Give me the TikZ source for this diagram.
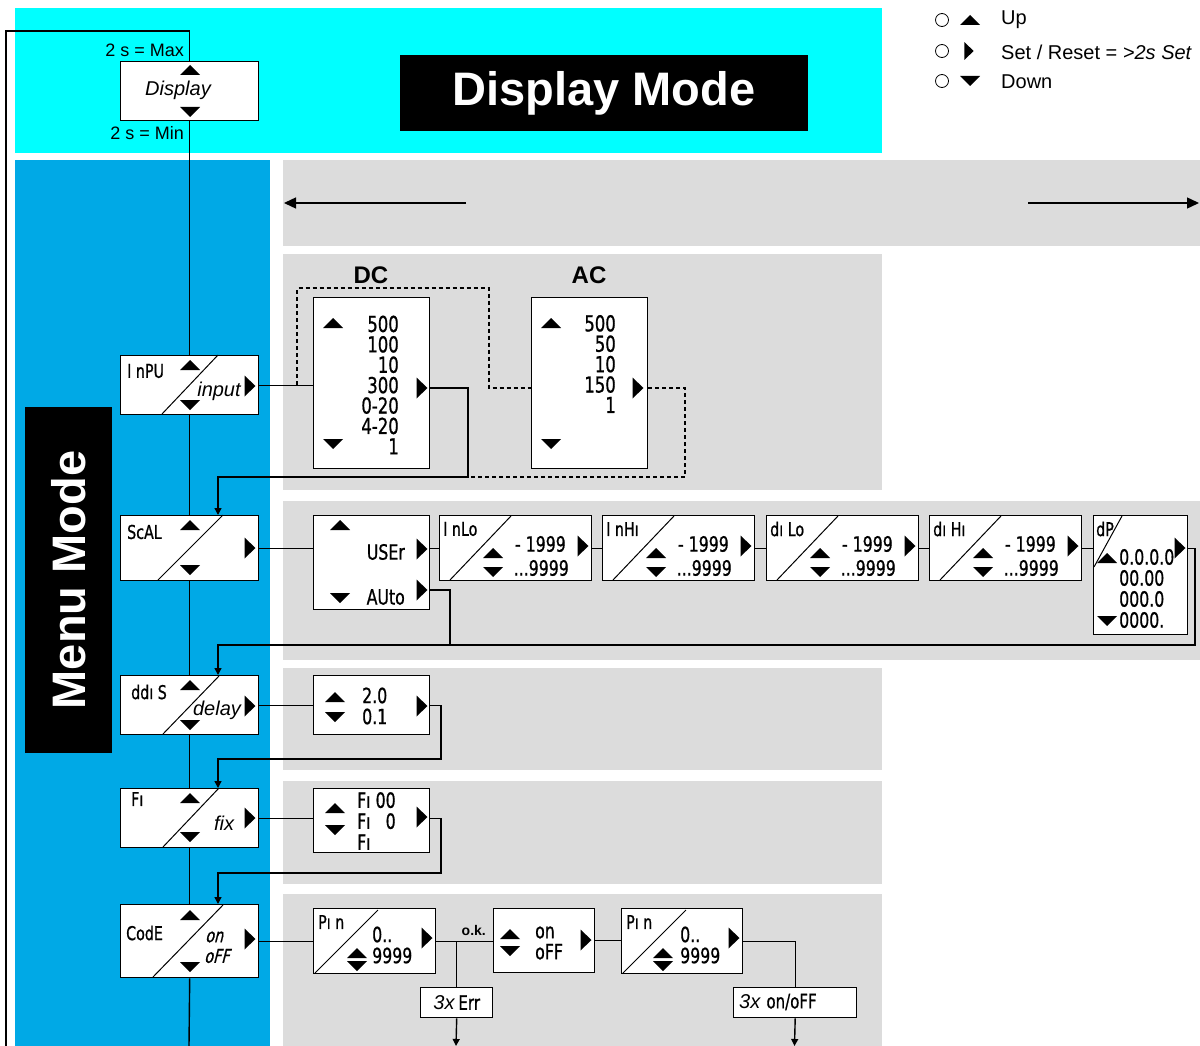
\documentclass[tikz,border=0pt]{standalone}
\usepackage{fontspec}
\setmainfont{Liberation Sans}
\newfontfamily\lcdfont[FakeStretch=0.75,FakeBold=0.8]{DejaVu Sans}
\newfontfamily\lcdslant[FakeStretch=0.75,FakeSlant=0.25,FakeBold=0.8]{DejaVu Sans}
\usetikzlibrary{positioning,arrows.meta,calc}
\definecolor{bandcyan}{HTML}{00FFFF}
\definecolor{menublue}{HTML}{00A9E6}
\definecolor{panel}{HTML}{DCDCDC}

\begin{document}
\begin{tikzpicture}[x=1pt, y=-1pt,
    mbox/.style={draw, line width=1.4pt, fill=white, minimum width=138pt, inner sep=0pt, anchor=north west},
    vbox/.style={draw, line width=1.4pt, fill=white, inner sep=0pt, anchor=north west},
    txt/.style={inner sep=0pt, font=\fontsize{18}{18}\selectfont},
    itx/.style={inner sep=0pt, font=\fontsize{20}{20}\selectfont\itshape},
    seg/.style={inner sep=0pt, font=\lcdfont\fontsize{21}{21}\selectfont},
    segs/.style={inner sep=0pt, font=\lcdfont\fontsize{19}{19}\selectfont},
    link/.style={line width=1.4pt},
    dlink/.style={line width=1.3pt, dash pattern=on 4pt off 3pt},
    flow/.style={line width=1.4pt, -{Triangle[length=7pt,width=7pt]}},
    wide/.style={line width=1.4pt, -{Triangle[length=12pt,width=11pt]}},
    upk/.pic={\fill (-10,5) -- (10,5) -- (0,-5) -- cycle;},
    dnk/.pic={\fill (-10,-5) -- (10,-5) -- (0,5) -- cycle;},
    rtk/.pic={\fill (-5.5,-10.5) -- (-5.5,10.5) -- (5.5,0) -- cycle;}
  ]
  \useasboundingbox (0,0) rectangle (1200,1046);

  % background bands
  \fill[bandcyan] (15,8) rectangle (882,153);
  \fill[menublue] (15,160) rectangle (270,1046);
  \fill[panel] (283,160) rectangle (1200,246);
  \fill[panel] (283,254) rectangle (882,490);
  \fill[panel] (283,501) rectangle (1200,660);
  \fill[panel] (283,668) rectangle (882,770);
  \fill[panel] (283,781) rectangle (882,884);
  \fill[panel] (283,894) rectangle (882,1046);

  % titles
  \node[fill=black, text=white, minimum width=408pt, minimum height=76pt, font=\bfseries\fontsize{47}{47}\selectfont] (dmode) at (604,93) {Display Mode};
  \node[fill=black, text=white, rotate=90, minimum width=346pt, minimum height=87pt, font=\bfseries\fontsize{47}{47}\selectfont] (mmode) at (68.5,580) {Menu Mode};

  % key
  \node[circle, draw, line width=0.8pt, minimum size=13pt, inner sep=0pt] (kup) at (942,20) {};
  \node[circle, draw, line width=0.8pt, minimum size=13pt, inner sep=0pt] (kset) at (942,51) {};
  \node[circle, draw, line width=0.8pt, minimum size=13pt, inner sep=0pt] (kdn) at (942,81) {};
  \pic at (970,20) {upk};
  \pic[scale=0.85] at (969,51) {rtk};
  \pic at (970,81) {dnk};
  \node[inner sep=0pt, anchor=west, font=\fontsize{20}{20}\selectfont] (lup) at (1001,20) {Up};
  \node[inner sep=0pt, anchor=west, font=\fontsize{20}{20}\selectfont] (lset) at (1001,52) {Set / Reset = \textit{>2s Set}};
  \node[inner sep=0pt, anchor=west, font=\fontsize{20}{20}\selectfont] (ldn) at (1001,82) {Down};

  % display
  \node[mbox, minimum height=59pt] (disp) at (120,61) {};
  \node[itx] (disptxt) at (178,90) {Display};
  \pic at (190,70) {upk};
  \pic at (190,112) {dnk};
  \node[txt, anchor=east] (maxlab) at (184,50) {2 s = Max};
  \node[txt, anchor=east] (minlab) at (184,133) {2 s = Min};

  % input
  \node[mbox, minimum height=59pt] (inpu) at (120,355) {};
  \draw[line width=1pt] (162,414) -- (218,355);
  \node[segs, anchor=west] (inpulab) at (127,371) {I nPU};
  \node[itx] (inputtxt) at (219,391) {input};
  \pic at (190,365) {upk};
  \pic at (190,405) {dnk};
  \pic at (250,386) {rtk};

  \node[inner sep=0pt, font=\bfseries\fontsize{24}{24}\selectfont] (dclab) at (371,275) {DC};
  \node[vbox, minimum width=116pt, minimum height=171pt] (dc) at (313,297) {};
  \node[inner sep=0pt, font=\lcdfont\fontsize{22}{20.4}\selectfont, align=right, anchor=east] (dcvals) at (399,385) {500\\100\\10\\300\\0-20\\4-20\\1};
  \pic at (333,323) {upk};
  \pic at (333,444) {dnk};
  \pic at (422,388) {rtk};

  \node[inner sep=0pt, font=\bfseries\fontsize{24}{24}\selectfont] (aclab) at (589,275) {AC};
  \node[vbox, minimum width=116pt, minimum height=171pt] (ac) at (531,297) {};
  \node[inner sep=0pt, font=\lcdfont\fontsize{22}{20.4}\selectfont, align=right, anchor=east] (acvals) at (616,364) {500\\50\\10\\150\\1};
  \pic at (551,323) {upk};
  \pic at (551,444) {dnk};
  \pic at (638,388) {rtk};

  % scale
  \node[mbox, minimum height=65pt] (scal) at (120,515) {};
  \draw[line width=1pt] (158,580) -- (223,515);
  \node[segs, anchor=west] (scallab) at (127,532) {ScAL};
  \pic at (190,525) {upk};
  \pic at (190,570) {dnk};
  \pic at (250,548) {rtk};

  \node[vbox, minimum width=116pt, minimum height=94pt] (sel) at (313,515) {};
  \pic at (340,525) {upk};
  \pic at (340,598) {dnk};
  \node[seg, anchor=east] (usertxt) at (405,552) {USEr};
  \node[seg, anchor=east] (autotxt) at (405,597) {AUto};
  \pic at (422,549) {rtk};
  \pic at (422,590) {rtk};

  \foreach \bx/\bn/\bt in {439/inlo/{I nLo}, 602/inhi/{I nHı}, 766/dilo/{dı Lo}, 929/dihi/{dı Hı}}{
    \node[vbox, minimum width=152pt, minimum height=65pt] (\bn) at (\bx,515) {};
    \draw[line width=1pt] (\bx+11,580) -- (\bx+72,516);
    \node[segs, anchor=west] (\bn-lab) at (\bx+4,529) {\bt};
    \node[seg, anchor=east] (\bn-top) at (\bx+127,544) {- 1999};
    \node[seg, anchor=east] (\bn-bot) at (\bx+130,568) {...9999};
    \pic at (\bx+54,553) {upk};
    \pic at (\bx+54,572) {dnk};
    \pic at (\bx+144,546) {rtk};
  }

  \node[vbox, minimum width=94pt, minimum height=119pt] (dip) at (1093,515) {};
  \draw[line width=1pt] (1094,567) -- (1122,516);
  \node[segs, anchor=west] (diplab) at (1096,529) {dP};
  \node[seg, anchor=west, align=left] (dipvals) at (1119,588.5) {0.0.0.0\\00.00\\000.0\\0000.};
  \pic at (1107,558) {upk};
  \pic at (1107,621) {dnk};
  \pic at (1180,548) {rtk};

  % delay
  \node[mbox, minimum height=59pt] (ddis) at (120,675) {};
  \draw[line width=1pt] (163,734) -- (219,676);
  \node[segs, anchor=west] (ddislab) at (131,692) {ddı S};
  \node[itx] (delaytxt) at (217,710) {delay};
  \pic at (190,685) {upk};
  \pic at (190,725) {dnk};
  \pic at (250,706) {rtk};

  \node[vbox, minimum width=116pt, minimum height=59pt] (dly) at (313,675) {};
  \pic at (335,697) {upk};
  \pic at (335,717) {dnk};
  \node[seg, anchor=west, align=left] (dlyvals) at (362,706) {2.0\\0.1};
  \pic at (422,706) {rtk};

  % fix
  \node[mbox, minimum height=59pt] (fi) at (120,788) {};
  \draw[line width=1pt] (163,847) -- (219,788);
  \node[segs, anchor=west] (filab) at (131,799) {Fı};
  \node[itx] (fixtxt) at (224,823) {fix};
  \pic at (190,798) {upk};
  \pic at (190,837) {dnk};
  \pic at (250,818) {rtk};

  \node[vbox, minimum width=116pt, minimum height=64pt] (fix) at (313,788) {};
  \pic at (335,808) {upk};
  \pic at (335,830) {dnk};
  \node[seg, anchor=west, align=left] (fixvals) at (357,821) {Fı 00\\Fı \phantom{0}0\\Fı};
  \pic at (422,817) {rtk};

  % code
  \node[mbox, minimum height=73pt] (code) at (120,904) {};
  \draw[line width=1pt] (153,977) -- (223,905);
  \node[segs, anchor=west] (codelab) at (126,933) {CodE};
  \node[inner sep=0pt, anchor=west, font=\lcdslant\fontsize{19}{19}\selectfont] (ontxt) at (205,937) {on};
  \node[inner sep=0pt, anchor=west, font=\lcdslant\fontsize{19}{19}\selectfont] (offtxt) at (204,956) {oFF};
  \pic at (190,915) {upk};
  \pic at (190,967) {dnk};
  \pic at (250,939) {rtk};

  \node[vbox, minimum width=122pt, minimum height=65pt] (pin) at (313,908) {};
  \draw[line width=1pt] (315,973) -- (378,910);
  \node[segs, anchor=west] (pinlab) at (318,922) {Pı n};
  \node[seg, anchor=west, align=left] (pinvals) at (372,945) {0..\\9999};
  \pic at (357,953) {upk};
  \pic at (357,966) {dnk};
  \pic at (427,938) {rtk};

  \node[vbox, minimum width=101pt, minimum height=64pt] (onoff) at (493,908) {};
  \pic at (510,934) {upk};
  \pic at (510,951) {dnk};
  \node[seg, anchor=west, align=left] (onoffvals) at (535,943) {on\\oFF};
  \pic at (586,940) {rtk};

  \node[vbox, minimum width=121pt, minimum height=65pt] (pintwo) at (621,908) {};
  \draw[line width=1pt] (623,973) -- (686,910);
  \node[segs, anchor=west] (pintwolab) at (626,922) {Pı n};
  \node[seg, anchor=west, align=left] (pintwovals) at (680,945) {0..\\9999};
  \pic at (663,953) {upk};
  \pic at (663,966) {dnk};
  \pic at (734,938) {rtk};

  \node[vbox, minimum width=72pt, minimum height=30pt, font=\fontsize{20}{20}\selectfont] (err) at (420,987) {\textit{3x}\,{\lcdfont Err}};
  \node[vbox, minimum width=123pt, minimum height=30pt] (onoffx) at (733,987) {};
  \node[inner sep=0pt, anchor=west, font=\fontsize{20}{20}\selectfont] (onoffxtxt) at (739,1002) {\textit{3x} {\lcdfont on/oFF}};

  % connectors
  \coordinate (lefttail) at (466,203);
  \coordinate (lefthead) at (284,203);
  \coordinate (righttail) at (1028,203);
  \coordinate (righthead) at (1199,203);
  \draw[wide] (lefttail) -- (lefthead);
  \draw[wide] (righttail) -- (righthead);

  \coordinate (chainend) at (189,1046);
  \coordinate (loopend) at (6,1046);
  \draw[link] (disp.north) -- ++(0,-30) -| (loopend);
  \draw[link] (disp.south) -- (inpu.north);
  \draw[link] (inpu.south) -- (scal.north);
  \draw[link] (scal.south) -- (ddis.north);
  \draw[link] (ddis.south) -- (fi.north);
  \draw[link] (fi.south) -- (code.north);
  \draw[link] (code.south) -- (chainend);

  \draw[link] (inpu.east) -- (inpu.east -| dc.west);
  \coordinate (dcsplit) at (297,384.5);
  \draw[dlink] (dcsplit) |- (489,288) |- (ac.west |- 0,388);
  \draw[flow] (dc.east |- 0,388) -| (468,477) -| ($(scal.north west)+(98,0)$);
  \draw[dlink] (ac.east |- 0,388) -| (685,477) -- (468,477);

  \draw[link] (scal.east) -- (scal.east -| sel.west);
  \draw[link] (sel.east |- inlo.west) -- (inlo.west);
  \draw[link] (inlo.east) -- (inhi.west);
  \draw[link] (inhi.east) -- (dilo.west);
  \draw[link] (dilo.east) -- (dihi.west);
  \draw[link] (dihi.east) -- (dihi.east -| dip.west);
  \draw[flow] (dip.east |- dihi.east) -| (1195,645) -| ($(ddis.north west)+(98,0)$);
  \draw[link] (sel.east |- 0,590) -| (450,645);

  \draw[link] (ddis.east) -- (ddis.east -| dly.west);
  \draw[flow] (dly.east) -| (441,759) -| ($(fi.north west)+(98,0)$);

  \draw[link] (fi.east) -- (fi.east -| fix.west);
  \draw[flow] (fix.east |- fi.east) -| (441,873) -| ($(code.north west)+(98,0)$);

  \draw[link] (code.east) -- (code.east -| pin.west);
  \draw[link] (pin.east) -- (pin.east -| onoff.west) node[pos=0.66, above=5pt, inner sep=0pt, font=\bfseries\fontsize{14}{14}\selectfont] (oklab) {o.k.};
  \draw[link] (err.north |- pin.east) -- (err.north);
  \coordinate (errend) at (456,1046);
  \draw[flow] (err.south) -- (errend);
  \draw[link] (onoff.east) -- (onoff.east -| pintwo.west);
  \draw[link] (pintwo.east) -| (onoffx.north);
  \coordinate (onoffxend) at (794.5,1046);
  \draw[flow] (onoffx.south) -- (onoffxend);
\end{tikzpicture}
\end{document}
